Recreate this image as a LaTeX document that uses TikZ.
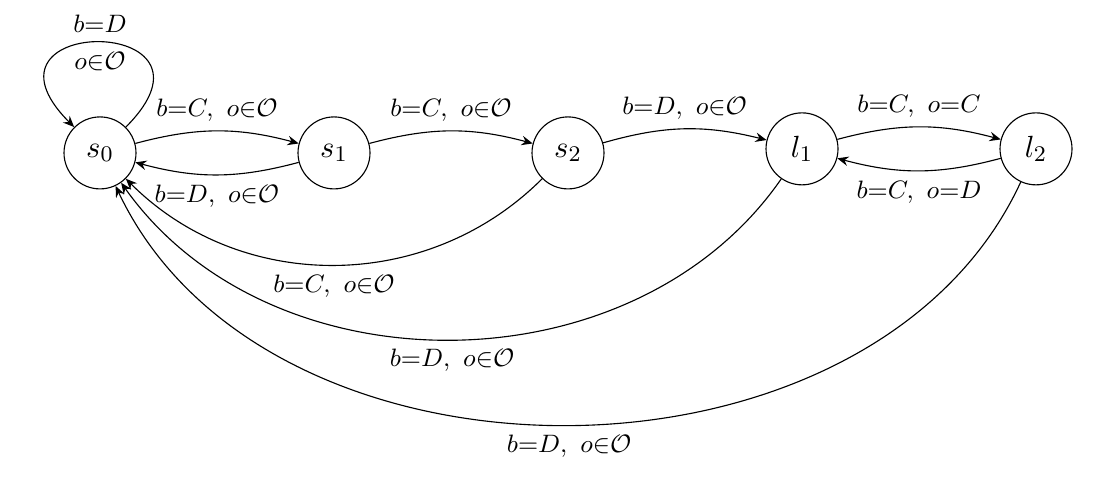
\documentclass[tikz,border=0pt]{standalone}
\usetikzlibrary{arrows.meta}
\begin{document}
\begin{tikzpicture}[x=0.012552cm, y=0.012552cm,
  st/.style={circle, draw, line width=0.4pt, minimum size=0.904cm, inner sep=0pt, anchor=base, font=\fontsize{11.3}{13}\selectfont},
  lblfont/.style={font=\fontsize{9}{11}\selectfont},
  lbl/.style={lblfont, auto},
  tr/.style={-{Stealth[length=4pt,width=3.4pt,inset=1.4pt]}, line width=0.4pt}
]
\useasboundingbox (0,0) rectangle (1107,-476);
\node[st] (s0) at (100,-157.2) {$s_0$};
\node[st] (s1) at (334,-157.2) {$s_1$};
\node[st] (s2) at (568,-157.2) {$s_2$};
\node[st] (l1) at (802,-157.2) {$l_1$};
\node[st] (l2) at (1036,-157.2) {$l_2$};

\draw[tr] (s0.45) .. controls +(45:160) and +(135:160) .. (s0.135)
  node[pos=0.5, above, lblfont] {$b{=}D$}
  node[pos=0.5, below, lblfont] {$o{\in}\mathcal{O}$};

\draw[tr] (s0) to[bend left=15] node[lbl] {$b{=}C,\ o{\in}\mathcal{O}$} (s1);
\draw[tr] (s1) to[bend left=15] node[lbl] {$b{=}D,\ o{\in}\mathcal{O}$} (s0);
\draw[tr] (s1) to[bend left=15] node[lbl] {$b{=}C,\ o{\in}\mathcal{O}$} (s2);
\draw[tr] (s2) to[bend left=15] node[lbl] {$b{=}D,\ o{\in}\mathcal{O}$} (l1);
\draw[tr] (l1) to[bend left=15] node[lbl] {$b{=}C,\ o{=}C$} (l2);
\draw[tr] (l2) to[bend left=15] node[lbl] {$b{=}C,\ o{=}D$} (l1);

\draw[tr] (s2) to[bend left=45] node[lbl] {$b{=}C,\ o{\in}\mathcal{O}$} (s0);
\draw[tr] (l1) to[bend left=55] node[lbl] {$b{=}D,\ o{\in}\mathcal{O}$} (s0);
\draw[tr] (l2) to[bend left=65] node[lbl] {$b{=}D,\ o{\in}\mathcal{O}$} (s0);
\end{tikzpicture}
\end{document}
